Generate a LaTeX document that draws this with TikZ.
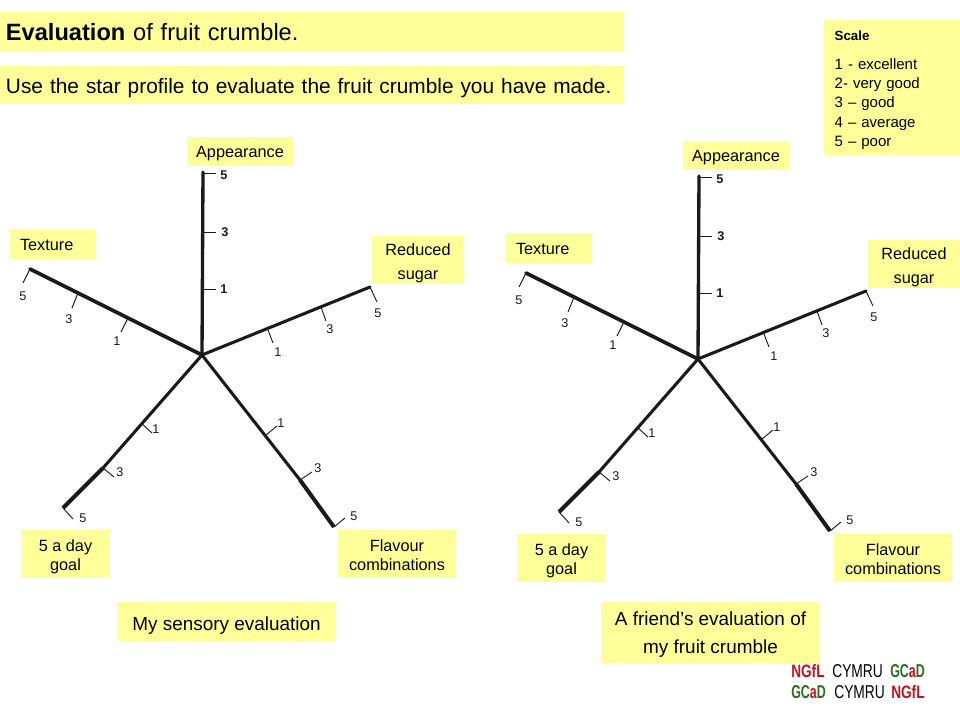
\documentclass[tikz,border=0pt]{standalone}
\usepackage{fontspec}
\usepackage{graphicx}
\setmainfont{Liberation Sans}
\definecolor{paleyellow}{HTML}{FFFF99}
\definecolor{logored}{HTML}{C0141E}
\definecolor{logogreen}{HTML}{2E6B1F}
\definecolor{axisink}{HTML}{1A1A1A}
\tikzset{
  x=0.75pt,y=-0.75pt,
  labelbox/.style={fill=paleyellow,inner sep=0pt,align=center,font=\fontsize{12.2}{14.2}\selectfont},
  headbox/.style={fill=paleyellow,inner sep=0pt,text width=459pt,align=left,minimum width=468pt},
  spoke/.style={draw=axisink,line width=2.5pt,line cap=round},
  spokethin/.style={draw=axisink,line width=2.3pt},
  spokethick/.style={draw=axisink,line width=3pt},
  tickmark/.style={draw=axisink,line width=0.7pt},
  ticknum/.style={inner sep=0pt,text=black!90,font=\fontsize{9.5}{10}\selectfont},
  logotext/.style={inner sep=0pt,font=\bfseries\fontsize{12}{14}\selectfont},
}
\newcommand{\axistick}[5]{%
  \coordinate (#1b) at (#2); \coordinate (#1e) at (#3);
  \draw[tickmark] (#1b) -- (#1e);
  \node[ticknum] (#1n) at (#4) {#5};
}
\newcommand{\starprofile}[1]{%
  \coordinate (#1hub) at (202,355);
  \coordinate (#1aEnd) at (203,172);
  \coordinate (#1tEnd) at (30,269);
  \coordinate (#1rEnd) at (370,287);
  \coordinate (#1dEnd) at (63,508);
  \coordinate (#1fEnd) at (334,527);
  \coordinate (#1dMid) at (103,468);
  \coordinate (#1fMid) at (300,480);
  \draw[spoke] (#1hub) -- (#1aEnd);
  \draw[spoke,line width=2.7pt] (#1hub) -- (#1tEnd);
  \draw[spoke,line width=2.3pt] (#1hub) -- (#1rEnd);
  \draw[spokethin] (#1hub) -- (#1dMid);
  \draw[spokethick] (#1dMid) -- (#1dEnd);
  \draw[spokethin] (#1hub) -- (#1fMid);
  \draw[spokethick] (#1fMid) -- (#1fEnd);
  \axistick{#1a5}{203,173}{216,173}{224,175}{\textbf{5}}
  \axistick{#1a3}{203,232}{216,232}{225,232}{\textbf{3}}
  \axistick{#1a1}{203,289}{216,289}{224,289}{\textbf{1}}
  \axistick{#1t5}{30,269}{23,283}{23,296}{5}
  \axistick{#1t3}{78,293}{72,308}{69,319}{3}
  \axistick{#1t1}{128,318}{121,332}{117,341}{1}
  \axistick{#1r5}{370,287}{377,302}{378,313}{5}
  \axistick{#1r3}{321,307}{326,321}{330,329}{3}
  \axistick{#1r1}{268,330}{273,343}{278,352}{1}
  \axistick{#1d5}{63,508}{73,519}{83,518}{5}
  \axistick{#1d3}{103,468}{114,477}{120,472}{3}
  \axistick{#1d1}{141,423}{152,433}{156,429}{1}
  \axistick{#1f5}{334,527}{345,518}{354,516}{5}
  \axistick{#1f3}{300,480}{312,472}{318,468}{3}
  \axistick{#1f1}{266,435}{277,426}{281,423}{1}
  \node[labelbox,minimum width=79.5pt,minimum height=21.75pt] (#1app) at (240,151.5) {\rule{0pt}{12pt}Appearance};
  \node[labelbox,minimum width=64.5pt,minimum height=22.5pt,text width=49.5pt,align=left] (#1tex) at (53,244) {\rule{0pt}{10.2pt}Texture};
  \node[labelbox,minimum width=69pt,minimum height=36pt,font=\fontsize{12.2}{18}\selectfont] (#1red) at (418,260) {\rule{0pt}{13.4pt}Reduced\\sugar};
  \node[labelbox,minimum width=66.75pt,minimum height=36pt] (#1day) at (65.5,554) {\rule{0pt}{13.4pt}5 a day\\goal};
  \node[labelbox,minimum width=88.5pt,minimum height=36pt] (#1fla) at (397,554) {\rule{0pt}{10.4pt}Flavour\\combinations};
}
\begin{document}
\begin{tikzpicture}
\useasboundingbox (0,0) rectangle (960,720);
\node[headbox,minimum height=29.25pt,font=\fontsize{17.7}{20}\selectfont] (title) at (312,31.5) {\rule{0pt}{14.4pt}\textbf{Evaluation} of fruit crumble.};
\node[headbox,minimum height=28.5pt,font=\fontsize{15.65}{20}\selectfont] (intro) at (312,85) {\rule{0pt}{15.8pt}Use the star profile to evaluate the fruit crumble you have made.};
\node[labelbox,minimum width=102pt,minimum height=101.25pt,text width=86pt,align=left,font=\fontsize{11.25}{14.3}\selectfont] (scale) at (892,87.5) {{\fontsize{10}{14.3}\selectfont\rule{0pt}{11pt}\textbf{Scale}}\\[7.75pt]1 - excellent\\2- very good\\3 – good\\4 – average\\5 – poor};
\begin{scope}
  \starprofile{L}
\end{scope}
\begin{scope}[shift={(496,4)}]
  \starprofile{R}
\end{scope}
\node[labelbox,minimum width=164.25pt,minimum height=29.25pt,font=\fontsize{14.2}{16}\selectfont] (mine) at (226.5,621.5) {\rule{0pt}{17pt}My sensory evaluation};
\node[labelbox,minimum width=164.25pt,minimum height=45.75pt,font=\fontsize{14.2}{21}\selectfont] (friend) at (710.5,632.5) {\rule{0pt}{13.5pt}A friend’s evaluation of\\my fruit crumble};
\node[logotext,text=logored,anchor=west] (l1a) at (791,671) {\resizebox{25pt}{9.75pt}{NGfL}};
\node[logotext,text=black,anchor=west] (l1b) at (832,671) {\resizebox{38pt}{9.75pt}{\mdseries CYMRU}};
\node[logotext,text=logogreen,anchor=west] (l1c) at (890,671) {\resizebox{26pt}{9.75pt}{GC\textcolor{logored}{a}D}};
\node[logotext,text=logogreen,anchor=west] (l2a) at (791,692) {\resizebox{26pt}{9.75pt}{GC\textcolor{logored}{a}D}};
\node[logotext,text=black,anchor=west] (l2b) at (834,692) {\resizebox{38pt}{9.75pt}{\mdseries CYMRU}};
\node[logotext,text=logored,anchor=west] (l2c) at (891,692) {\resizebox{25pt}{9.75pt}{NGfL}};
\end{tikzpicture}
\end{document}
